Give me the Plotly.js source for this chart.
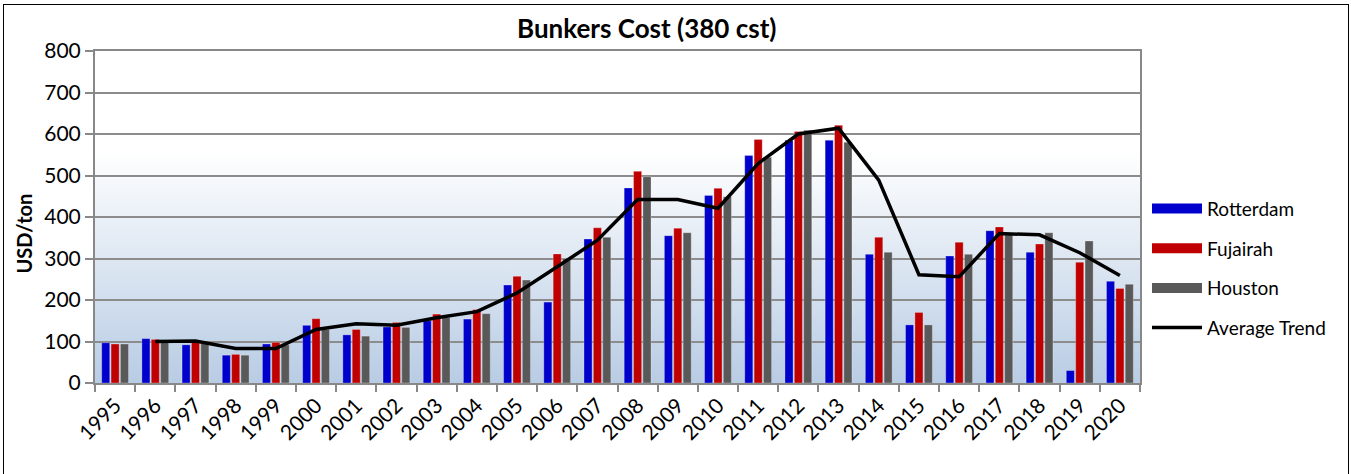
<!DOCTYPE html>
<html>
<head>
<meta charset="utf-8">
<script src="https://cdn.plot.ly/plotly-3.0.1.min.js"></script>
<style>
html,body{margin:0;padding:0;background:#fff;}
#wrap{position:relative;width:1351px;height:474px;}
#chart{position:absolute;left:0;top:0;width:1351px;height:474px;}
#frame{position:absolute;left:3px;top:4px;width:1346px;height:480px;border:1px solid #000;pointer-events:none;box-sizing:border-box;}
</style>
</head>
<body>
<div id="wrap"><div id="chart"></div><div id="frame"></div></div>
<script>
const years = ["1995","1996","1997","1998","1999","2000","2001","2002","2003","2004","2005","2006","2007","2008","2009","2010","2011","2012","2013","2014","2015","2016","2017","2018","2019","2020"];
const rotterdam = [97,107,92,67,94,139,116,135,150,154,236,195,347,470,355,452,548,585,585,310,140,306,367,315,30,245];
const fujairah  = [94,105,100,69,98,155,129,146,166,177,257,311,374,510,373,469,587,606,621,351,170,339,376,335,291,228];
const houston   = [94,101,95,67,92,129,113,134,158,167,248,300,351,497,362,449,544,609,580,315,140,310,360,362,342,238];
const averageTrend = [null,100,101,83,83,129,143,139,157,172,217,280,344,442,442,421,529,600,614,489,261,256,360,357,314,259];
const seriesNames = ["Rotterdam","Fujairah","Houston","Average Trend"];
const seriesColors = ["#0000cc","#c00000","#595959","#000000"];
const yTicks = [0,100,200,300,400,500,600,700,800];

const FONT = "Lato, 'Open Sans', sans-serif";
const gradSvg = '<svg xmlns="http://www.w3.org/2000/svg" width="100" height="100" preserveAspectRatio="none">' +
  '<defs><linearGradient id="g" x1="0" y1="0" x2="0" y2="1">' +
  '<stop offset="0" stop-color="#ffffff"/><stop offset="0.3" stop-color="#ffffff"/>' +
  '<stop offset="1" stop-color="#b8cce4"/></linearGradient></defs>' +
  '<rect width="100" height="100" fill="url(#g)"/></svg>';
const gradUri = 'data:image/svg+xml;charset=utf-8,' + encodeURIComponent(gradSvg);

const barLine = {width: 0.8, color: 'rgba(255,255,255,0.35)'};
const noValues = years.map(() => null);
const barSeries = [rotterdam, fujairah, houston];
const traces = [];
barSeries.forEach((vals, i) => {
  traces.push({type:'bar', name: seriesNames[i], x: years, y: vals, marker:{color: seriesColors[i], line: barLine}, showlegend:false});
});
// legend entries for bars drawn as wide swatches
barSeries.forEach((vals, i) => {
  traces.push({type:'scatter', mode:'lines', name: seriesNames[i], x: years, y: noValues, line:{color: seriesColors[i], width: 12}, legendgroup: 'g'+i, hoverinfo:'skip'});
});
traces.push({type:'scatter', mode:'lines', name: seriesNames[3], x: years, y: averageTrend, line:{color: seriesColors[3], width:3.5}, legendgroup:'g3'});

const layout = {
  width: 1351, height: 474,
  margin: {l: 95, r: 211, t: 51, b: 91, pad: 0},
  paper_bgcolor: 'rgba(0,0,0,0)',
  plot_bgcolor: 'rgba(0,0,0,0)',
  font: {family: FONT, color: '#000'},
  title: {text: '<b>Bunkers Cost (380 cst)</b>', font:{family: FONT, size: 26, color:'#000', weight: 900}, x: 0.528, xref: 'paper', xanchor:'center', y: 0.94, yref:'container', yanchor:'middle'},
  barmode: 'group',
  bargap: 0.3,
  bargroupgap: 0.14,
  showlegend: true,
  legend: {x: 1.0067, xanchor:'left', y: 0.346, yanchor:'middle', font:{family: FONT, size: 19, color:'#000'}, tracegroupgap: 12, bgcolor:'rgba(0,0,0,0)', itemwidth: 50},
  xaxis: {
    type:'category', tickangle: -45, tickson:'boundaries', ticks:'outside', ticklen: 7, tickcolor:'#888', tickwidth: 2,
    showline: true, linecolor:'#888', linewidth: 2, mirror: true, showgrid: false,
    tickfont:{family: FONT, size: 21, color:'#000'}
  },
  yaxis: {
    range: [0, 800], tickvals: yTicks, ticktext: yTicks.map(String), ticks:'outside', ticklen: 8, tickcolor:'#888', tickwidth: 2,
    showline: true, linecolor:'#888', linewidth: 2, mirror: true,
    showgrid: true, gridcolor:'#8c8c8c', gridwidth: 2, zeroline: false,
    tickfont:{family: FONT, size: 21, color:'#000'}
  },
  annotations: [
    {text:'<b>USD/ton</b>', xref:'paper', yref:'paper', x: -0.068, y: 0.45, xanchor:'center', yanchor:'middle', textangle: -90, showarrow: false, font:{family: FONT, size: 20, color:'#000'}}
  ],
  images: [
    {source: gradUri, xref:'paper', yref:'paper', x: 0, y: 1, sizex: 1, sizey: 1, xanchor:'left', yanchor:'top', sizing:'stretch', layer:'below'}
  ]
};

Plotly.newPlot('chart', traces, layout, {displayModeBar:false, staticPlot:true});
</script>
</body>
</html>
